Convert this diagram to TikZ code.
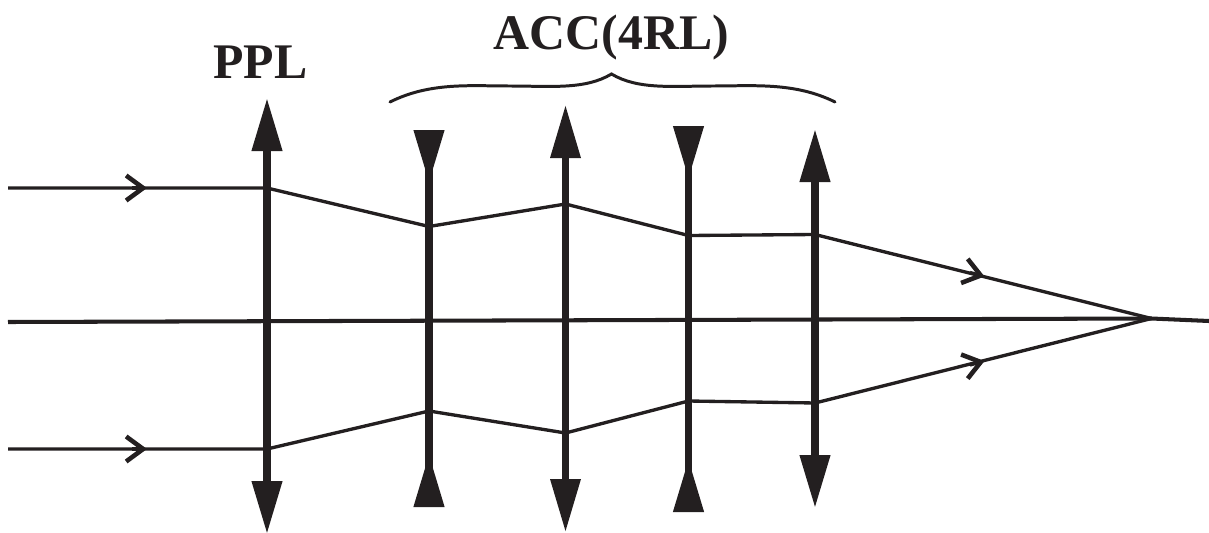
\documentclass[tikz,border=0pt]{standalone}
\usepackage{fontspec}
\setmainfont{Liberation Serif}
\usepackage{xcolor}
\usetikzlibrary{arrows.meta}
\definecolor{inkdark}{HTML}{231F20}
\tikzset{
  label text/.style={inner sep=0pt, anchor=base, text=inkdark, font=\fontsize{28.35}{30}\selectfont\bfseries},
  ray/.style={draw=inkdark, line width=1.9pt},
  ray tip/.style={ray, -{Straight Barb[length=0.34cm, width=0.5cm, line width=2.6pt]}},
  axis line/.style={draw=inkdark, line width=2.3pt},
  brace line/.style={draw=inkdark, line width=1.7pt, line cap=round},
  lens out/.style={draw=inkdark, line width=4.2pt, {Triangle[length=1.06cm, width=0.58cm]}-{Triangle[length=1.06cm, width=0.58cm]}, color=inkdark},
  lens in/.style={draw=inkdark, line width=4.2pt, {Triangle[length=1.06cm, width=0.58cm, reversed]}-{Triangle[length=1.06cm, width=0.58cm, reversed]}, color=inkdark}
}
\begin{document}
\begin{tikzpicture}
\useasboundingbox (0, 0) rectangle (24.18, 10.64);

\node[label text] at (5.21, 9.08) (PPL) {PPL};
\node[label text] at (12.23, 9.66) (ACC) {ACC(4RL)};

\coordinate (L1top) at (5.34, 8.68);
\coordinate (L1bot) at (5.34, -0.04);
\coordinate (L2top) at (8.58, 8.04);
\coordinate (L2bot) at (8.58, 0.50);
\coordinate (L3top) at (11.31, 8.54);
\coordinate (L3bot) at (11.31, 0);
\coordinate (L4top) at (13.77, 8.12);
\coordinate (L4bot) at (13.77, 0.40);
\coordinate (L5top) at (16.30, 8.06);
\coordinate (L5bot) at (16.30, 0.48);

\draw[lens out] (L1bot) -- (L1top);
\draw[lens in] (L2bot) -- (L2top);
\draw[lens out, line width=3.8pt] (L3bot) -- (L3top);
\draw[lens in] (L4bot) -- (L4top);
\draw[lens out] (L5bot) -- (L5top);

\coordinate (A0) at (0.16, 4.20);
\coordinate (A1) at (24.18, 4.22);
\coordinate (F) at (23.03, 4.27);

\coordinate (T0) at (0.16, 6.88);
\coordinate (Tc) at (2.64, 6.88);
\coordinate (Ta) at (2.94, 6.88);
\coordinate (T1) at (5.34, 6.88);
\coordinate (T2) at (8.58, 6.11);
\coordinate (T3) at (11.31, 6.56);
\coordinate (T4) at (13.77, 5.93);
\coordinate (T5) at (16.30, 5.95);
\coordinate (Td) at (19.40, 5.19);
\coordinate (Tb) at (19.69, 5.11);

\coordinate (B0) at (0.16, 1.66);
\coordinate (Bc) at (2.64, 1.66);
\coordinate (Ba) at (2.94, 1.66);
\coordinate (B1) at (5.34, 1.66);
\coordinate (B2) at (8.58, 2.42);
\coordinate (B3) at (11.31, 1.98);
\coordinate (B4) at (13.77, 2.62);
\coordinate (B5) at (16.30, 2.58);
\coordinate (Bd) at (19.40, 3.34);
\coordinate (Bb) at (19.69, 3.42);

\draw[axis line] (A0) -- (F) -- (A1);

\draw[ray] (T0) -- (T1) -- (T2) -- (T3) -- (T4) -- (T5) -- (F);
\draw[ray tip] (Tc) to (Ta);
\draw[ray tip] (Td) to (Tb);

\draw[ray] (B0) -- (B1) -- (B2) -- (B3) -- (B4) -- (B5) -- (F);
\draw[ray tip] (Bc) to (Ba);
\draw[ray tip] (Bd) to (Bb);

\coordinate (BrL) at (7.80, 8.60);
\coordinate (BrR) at (16.70, 8.60);
\coordinate (BrM) at (12.23, 9.16);
\coordinate (BrA) at (10.20, 8.92);
\coordinate (BrB) at (14.26, 8.92);

\draw[brace line] (BrL) .. controls (8.60, 9.00) and (9.40, 8.92) .. (BrA)
  .. controls (11.00, 8.92) and (11.70, 8.84) .. (BrM)
  .. controls (12.76, 8.84) and (13.46, 8.92) .. (BrB)
  .. controls (15.06, 8.92) and (15.90, 9.00) .. (BrR);
\end{tikzpicture}
\end{document}
